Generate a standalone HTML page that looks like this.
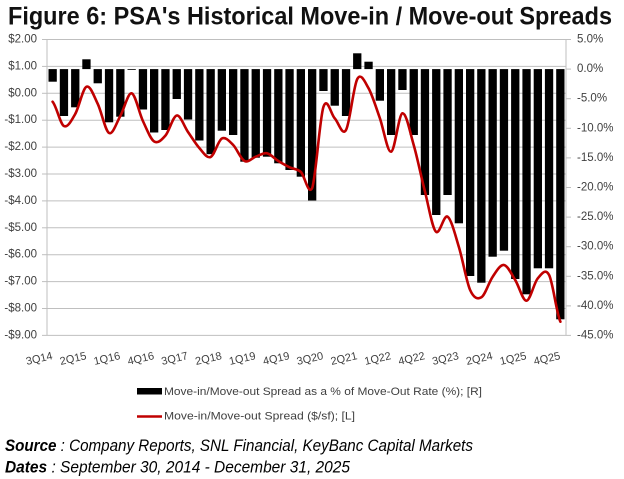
<!DOCTYPE html>
<html><head><meta charset="utf-8"><style>
html,body{margin:0;padding:0;background:#fff;}
svg{display:block;}
</style></head><body>
<svg width="624" height="479" viewBox="0 0 624 479" xmlns="http://www.w3.org/2000/svg">
<rect width="624" height="479" fill="#fff"/>
<text x="8" y="24.5" font-family="Liberation Sans, sans-serif" font-weight="bold" font-size="25" fill="#111" textLength="604" lengthAdjust="spacingAndGlyphs">Figure 6: PSA's Historical Move-in / Move-out Spreads</text>

<g stroke="#bfbfbf" stroke-width="1">
<line x1="47" y1="39.5" x2="566" y2="39.5"/>
<line x1="47" y1="66.4" x2="566" y2="66.4"/>
<line x1="47" y1="93.3" x2="566" y2="93.3"/>
<line x1="47" y1="120.2" x2="566" y2="120.2"/>
<line x1="47" y1="147.1" x2="566" y2="147.1"/>
<line x1="47" y1="174.0" x2="566" y2="174.0"/>
<line x1="47" y1="200.9" x2="566" y2="200.9"/>
<line x1="47" y1="227.8" x2="566" y2="227.8"/>
<line x1="47" y1="254.7" x2="566" y2="254.7"/>
<line x1="47" y1="281.6" x2="566" y2="281.6"/>
<line x1="47" y1="308.5" x2="566" y2="308.5"/>
<line x1="42" y1="335.4" x2="566" y2="335.4"/>
<line x1="47" y1="39.5" x2="47" y2="335.4"/>
<line x1="566" y1="39.5" x2="566" y2="335.4"/>
<line x1="42" y1="39.5" x2="47" y2="39.5"/>
<line x1="42" y1="66.4" x2="47" y2="66.4"/>
<line x1="42" y1="93.3" x2="47" y2="93.3"/>
<line x1="42" y1="120.2" x2="47" y2="120.2"/>
<line x1="42" y1="147.1" x2="47" y2="147.1"/>
<line x1="42" y1="174.0" x2="47" y2="174.0"/>
<line x1="42" y1="200.9" x2="47" y2="200.9"/>
<line x1="42" y1="227.8" x2="47" y2="227.8"/>
<line x1="42" y1="254.7" x2="47" y2="254.7"/>
<line x1="42" y1="281.6" x2="47" y2="281.6"/>
<line x1="42" y1="308.5" x2="47" y2="308.5"/>
<line x1="566" y1="39.5" x2="571" y2="39.5"/>
<line x1="566" y1="69.1" x2="571" y2="69.1"/>
<line x1="566" y1="98.7" x2="571" y2="98.7"/>
<line x1="566" y1="128.3" x2="571" y2="128.3"/>
<line x1="566" y1="157.9" x2="571" y2="157.9"/>
<line x1="566" y1="187.5" x2="571" y2="187.5"/>
<line x1="566" y1="217.1" x2="571" y2="217.1"/>
<line x1="566" y1="246.7" x2="571" y2="246.7"/>
<line x1="566" y1="276.3" x2="571" y2="276.3"/>
<line x1="566" y1="305.9" x2="571" y2="305.9"/>
<line x1="566" y1="335.4" x2="571" y2="335.4"/>
</g>

<g font-family="Liberation Sans, sans-serif" font-size="11.5" fill="#404040" text-anchor="end" dominant-baseline="middle">
<text x="37" y="39.5">$2.00</text>
<text x="37" y="66.4">$1.00</text>
<text x="37" y="93.3">$0.00</text>
<text x="37" y="120.2">-$1.00</text>
<text x="37" y="147.1">-$2.00</text>
<text x="37" y="174.0">-$3.00</text>
<text x="37" y="200.9">-$4.00</text>
<text x="37" y="227.8">-$5.00</text>
<text x="37" y="254.7">-$6.00</text>
<text x="37" y="281.6">-$7.00</text>
<text x="37" y="308.5">-$8.00</text>
<text x="37" y="335.4">-$9.00</text>
</g>
<g font-family="Liberation Sans, sans-serif" font-size="11.5" fill="#404040" text-anchor="start" dominant-baseline="middle">
<text x="577" y="39.5">5.0%</text>
<text x="577" y="69.1">0.0%</text>
<text x="577" y="98.7">-5.0%</text>
<text x="577" y="128.3">-10.0%</text>
<text x="577" y="157.9">-15.0%</text>
<text x="577" y="187.5">-20.0%</text>
<text x="577" y="217.1">-25.0%</text>
<text x="577" y="246.7">-30.0%</text>
<text x="577" y="276.3">-35.0%</text>
<text x="577" y="305.9">-40.0%</text>
<text x="577" y="335.4">-45.0%</text>
</g>

<g fill="#000">
<rect x="48.5" y="69.1" width="8.3" height="12.6"/>
<rect x="59.8" y="69.1" width="8.3" height="46.9"/>
<rect x="71.1" y="69.1" width="8.3" height="38.2"/>
<rect x="82.3" y="59.3" width="8.3" height="9.8"/>
<rect x="93.6" y="69.1" width="8.3" height="14.2"/>
<rect x="104.9" y="69.1" width="8.3" height="53.2"/>
<rect x="116.2" y="69.1" width="8.3" height="47.6"/>
<rect x="127.5" y="69.1" width="8.3" height="0.8"/>
<rect x="138.8" y="69.1" width="8.3" height="40.4"/>
<rect x="150.0" y="69.1" width="8.3" height="63.4"/>
<rect x="161.3" y="69.1" width="8.3" height="60.9"/>
<rect x="172.6" y="69.1" width="8.3" height="29.9"/>
<rect x="183.9" y="69.1" width="8.3" height="50.4"/>
<rect x="195.2" y="69.1" width="8.3" height="71.4"/>
<rect x="206.5" y="69.1" width="8.3" height="85.1"/>
<rect x="217.7" y="69.1" width="8.3" height="61.6"/>
<rect x="229.0" y="69.1" width="8.3" height="65.9"/>
<rect x="240.3" y="69.1" width="8.3" height="92.6"/>
<rect x="251.6" y="69.1" width="8.3" height="88.6"/>
<rect x="262.9" y="69.1" width="8.3" height="87.6"/>
<rect x="274.2" y="69.1" width="8.3" height="94.2"/>
<rect x="285.4" y="69.1" width="8.3" height="100.9"/>
<rect x="296.7" y="69.1" width="8.3" height="107.6"/>
<rect x="308.0" y="69.1" width="8.3" height="131.4"/>
<rect x="319.3" y="69.1" width="8.3" height="21.9"/>
<rect x="330.6" y="69.1" width="8.3" height="36.6"/>
<rect x="341.9" y="69.1" width="8.3" height="46.9"/>
<rect x="353.1" y="53.3" width="8.3" height="15.8"/>
<rect x="364.4" y="61.7" width="8.3" height="7.4"/>
<rect x="375.7" y="69.1" width="8.3" height="31.6"/>
<rect x="387.0" y="69.1" width="8.3" height="65.9"/>
<rect x="398.3" y="69.1" width="8.3" height="20.9"/>
<rect x="409.6" y="69.1" width="8.3" height="65.9"/>
<rect x="420.8" y="69.1" width="8.3" height="125.9"/>
<rect x="432.1" y="69.1" width="8.3" height="145.9"/>
<rect x="443.4" y="69.1" width="8.3" height="125.9"/>
<rect x="454.7" y="69.1" width="8.3" height="154.2"/>
<rect x="466.0" y="69.1" width="8.3" height="206.9"/>
<rect x="477.2" y="69.1" width="8.3" height="213.6"/>
<rect x="488.5" y="69.1" width="8.3" height="187.6"/>
<rect x="499.8" y="69.1" width="8.3" height="181.6"/>
<rect x="511.1" y="69.1" width="8.3" height="209.9"/>
<rect x="522.4" y="69.1" width="8.3" height="225.2"/>
<rect x="533.7" y="69.1" width="8.3" height="199.2"/>
<rect x="544.9" y="69.1" width="8.3" height="199.2"/>
<rect x="556.2" y="69.1" width="8.3" height="250.2"/>
</g>

<path fill="none" stroke="#c00000" stroke-width="2.6" stroke-linejoin="round" stroke-linecap="round" d="M52.6,101.7
C56.4,105.8 60.2,124.0 63.9,126
C67.7,128.1 71.4,120.6 75.2,114
C79.0,107.5 82.7,88.4 86.5,86.7
C90.3,85.0 94.0,96.3 97.8,104
C101.5,111.7 105.3,131 109.1,133
C112.8,135 116.6,122.6 120.3,116
C124.1,109.4 127.9,92.5 131.6,93.3
C135.4,94.1 139.1,113.0 142.9,121
C146.7,129.0 150.4,139.1 154.2,141.5
C158.0,143.9 161.7,139.8 165.5,135.5
C169.2,131.2 173.0,116.1 176.8,115.5
C180.5,114.9 184.3,126.6 188.0,132
C191.8,137.4 195.6,143.8 199.3,148
C203.1,152.2 206.8,158.6 210.6,157
C214.4,155.4 218.1,140.5 221.9,138.5
C225.6,136.5 229.4,141.3 233.2,145
C236.9,148.8 240.7,159.1 244.5,161
C248.2,163.0 252.0,158.0 255.7,156.7
C259.5,155.4 263.3,152.6 267.0,153.3
C270.8,154.0 274.5,158.7 278.3,161
C282.1,163.3 285.8,165.5 289.6,167.3
C293.3,169.1 297.1,168.6 300.9,172
C304.6,175.5 308.4,196.0 312.2,188
C315.9,177.2 319.7,118.6 323.4,107
C327.2,95.4 331.0,114.5 334.7,118.3
C338.5,122.1 342.2,136.6 346.0,130
C349.8,123.5 353.5,86.0 357.3,79
C361.0,72.1 364.8,81.8 368.6,88.3
C372.3,94.9 376.1,107.7 379.9,118.3
C383.6,128.9 387.4,152.5 391.1,151.7
C394.9,150.9 398.7,114.4 402.4,113.3
C406.2,112.2 409.9,131.9 413.7,145
C417.5,158.1 421.2,177.2 425.0,191.7
C428.7,206.2 432.5,229.8 436.3,232
C440.0,234.2 443.8,214.3 447.6,216.7
C451.3,219.2 455.1,234.5 458.8,246.7
C462.6,258.9 466.4,281.6 470.1,290
C473.9,298.4 477.6,299.5 481.4,297.3
C485.2,295.1 488.9,282.1 492.7,276.7
C496.4,271.3 500.2,264.5 504.0,265
C507.7,265.6 511.5,274.1 515.2,280
C519.0,286.0 522.8,301.0 526.5,300.7
C530.3,300.4 534.0,282.6 537.8,278.3
C541.6,274.0 545.3,267.8 549.1,275
C552.9,282.2 556.6,313.9 560.4,321.7"/>

<g font-family="Liberation Sans, sans-serif" font-size="11" fill="#404040" text-anchor="end">
<text transform="translate(53.1,359) rotate(-13)">3Q14</text>
<text transform="translate(87.0,359) rotate(-13)">2Q15</text>
<text transform="translate(120.8,359) rotate(-13)">1Q16</text>
<text transform="translate(154.7,359) rotate(-13)">4Q16</text>
<text transform="translate(188.5,359) rotate(-13)">3Q17</text>
<text transform="translate(222.4,359) rotate(-13)">2Q18</text>
<text transform="translate(256.2,359) rotate(-13)">1Q19</text>
<text transform="translate(290.1,359) rotate(-13)">4Q19</text>
<text transform="translate(323.9,359) rotate(-13)">3Q20</text>
<text transform="translate(357.8,359) rotate(-13)">2Q21</text>
<text transform="translate(391.6,359) rotate(-13)">1Q22</text>
<text transform="translate(425.5,359) rotate(-13)">4Q22</text>
<text transform="translate(459.3,359) rotate(-13)">3Q23</text>
<text transform="translate(493.2,359) rotate(-13)">2Q24</text>
<text transform="translate(527.0,359) rotate(-13)">1Q25</text>
<text transform="translate(560.9,359) rotate(-13)">4Q25</text>
</g>

<rect x="137" y="388" width="25" height="6.5" fill="#000"/>
<text x="164" y="395" font-family="Liberation Sans, sans-serif" font-size="11" fill="#404040" textLength="318" lengthAdjust="spacingAndGlyphs">Move-in/Move-out Spread as a % of Move-Out Rate (%);  [R]</text>
<line x1="137" y1="416.5" x2="162" y2="416.5" stroke="#c00000" stroke-width="2.6"/>
<text x="164" y="419.5" font-family="Liberation Sans, sans-serif" font-size="11" fill="#404040" textLength="191" lengthAdjust="spacingAndGlyphs">Move-in/Move-out Spread ($/sf); [L]</text>

<text x="5" y="451" font-family="Liberation Sans, sans-serif" font-size="17" font-style="italic" fill="#000" textLength="468" lengthAdjust="spacingAndGlyphs"><tspan font-weight="bold">Source</tspan> : Company Reports, SNL Financial, KeyBanc Capital Markets</text>
<text x="5" y="472.5" font-family="Liberation Sans, sans-serif" font-size="17" font-style="italic" fill="#000" textLength="345" lengthAdjust="spacingAndGlyphs"><tspan font-weight="bold">Dates</tspan> : September 30, 2014 - December 31, 2025</text>
</svg>
</body></html>
